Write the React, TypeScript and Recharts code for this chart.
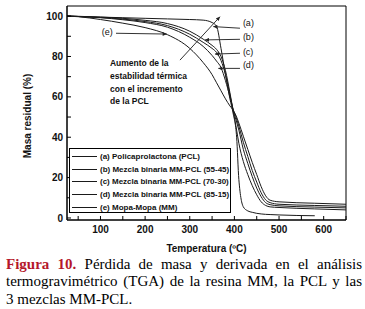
import React from 'react';
import {
  LineChart,
  Line,
  XAxis,
  YAxis,
  ReferenceArea,
  ReferenceLine,
  ReferenceDot,
} from 'recharts';

// TGA curves
const temperatures = [25, 50, 100, 150, 200, 250, 300, 330, 350, 360, 370, 380, 390, 397, 405, 410, 420, 430, 440, 450, 460, 470, 480, 500, 580, 650];
const pcl = [100, 99.8, 99.5, 99.2, 98.9, 98.6, 98.3, 98.0, 96.8, 95.0, 84.0, 71.0, 59.0, 52.0, 40.0, 19.0, 5.5, 3.5, 2.8, 2.3, 2.0, 1.8, 1.7, 1.5, 1.1, null];
const mm5545 = [100, 99.9, 99.5, 98.9, 97.9, 96.3, 92.5, 88.6, 85.5, 83.5, 80.0, 73.0, 62.0, 53.5, 43.5, 37.0, 28.0, 21.5, 16.0, 11.5, 8.0, 6.2, 5.5, 5.2, 4.5, 4.0];
const mm7030 = [100, 99.8, 99.3, 98.5, 97.3, 95.3, 91.0, 87.0, 84.0, 82.0, 78.0, 71.0, 61.0, 53.5, 47.5, 43.5, 34.0, 27.0, 20.5, 14.8, 10.5, 7.6, 6.6, 6.0, 5.4, 5.0];
const mm8515 = [100, 99.8, 99.2, 98.2, 96.8, 94.5, 89.5, 85.0, 80.5, 77.7, 74.5, 68.0, 60.0, 54.0, 49.0, 45.5, 37.5, 30.5, 23.5, 17.8, 12.5, 9.0, 7.6, 6.8, 6.2, 5.8];
const mopaMopa = [100, 99.7, 98.3, 96.5, 94.3, 90.8, 84.0, 77.0, 71.0, 67.0, 63.0, 59.0, 55.5, 53.5, 50.0, 47.0, 40.5, 34.0, 27.5, 21.5, 15.5, 11.0, 8.8, 8.0, 7.3, 6.8];

const seriesKeys = ['a', 'b', 'c', 'd', 'e'];
const seriesNames = [
  '(a) Policaprolactona (PCL)',
  '(b) Mezcla binaria MM-PCL (55-45)',
  '(c) Mezcla binaria MM-PCL (70-30)',
  '(d) Mezcla binaria MM-PCL (85-15)',
  '(e) Mopa-Mopa (MM)',
];

// every tick is drawn, only these get a label
const xTicks = [50, 100, 150, 200, 250, 300, 350, 400, 450, 500, 550, 600, 650];
const xLabelled = [100, 200, 300, 400, 500, 600];
const yTicks = [0, 10, 20, 30, 40, 50, 60, 70, 80, 90, 100];
const yLabelled = [0, 20, 40, 60, 80, 100];

const data = temperatures.map((t, i) => ({
  t,
  a: pcl[i],
  b: mm5545[i],
  c: mm7030[i],
  d: mm8515[i],
  e: mopaMopa[i],
}));

// annotation arrows (data coordinates)
const curveArrows = [
  { text: '(a)', from: [412.5, 94.0], to: [352.7, 94.8], at: [419, 96.7] },
  { text: '(b)', from: [412.5, 88.5], to: [334.1, 88.2], at: [419, 89.8] },
  { text: '(c)', from: [412.5, 81.6], to: [356.5, 81.2], at: [419, 82.4] },
  { text: '(d)', from: [412.5, 74.1], to: [364.0, 74.1], at: [419, 75.8] },
  { text: '(e)', from: [134.8, 91.5], to: [248.3, 91.1], at: [102.7, 92.0] },
];
const trendArrow = { from: [278.1, 78.2], to: [367.7, 99.7] };
const noteAt = [121.3, 76.6];
const noteLines = ['Aumento de la', 'estabilidad térmica', 'con el incremento', 'de la PCL'];

const sans = '"Liberation Sans", Arial, sans-serif';
const ink = '#1a1a1a';

const ArrowLine = (p: any) => (
  <line
    x1={p.x1}
    y1={p.y1}
    x2={p.x2}
    y2={p.y2}
    stroke="#333"
    strokeWidth={1}
    markerEnd="url(#tgaArrow)"
  />
);

const YTitle = (props: any) => {
  const { x, y, height } = props.viewBox;
  const cx = x + 5;
  const cy = y + height / 2 + 3;
  return (
    <text
      x={cx}
      y={cy}
      transform={`rotate(-90, ${cx}, ${cy})`}
      textAnchor="middle"
      dominantBaseline="central"
      fontFamily={sans}
      fontSize={10}
      fontWeight="bold"
      fill="#111"
    >
      Masa residual (%)
    </text>
  );
};

const XTitle = (props: any) => {
  const { x, y, width } = props.viewBox;
  return (
    <text
      x={x + width / 2}
      y={y + 28.3}
      textAnchor="middle"
      dominantBaseline="central"
      fontFamily={sans}
      fontSize={10}
      fontWeight="bold"
      fill="#111"
    >
      Temperatura (ºC)
    </text>
  );
};

function LegendBox() {
  return (
    <div
      style={{
        position: 'absolute',
        left: 69,
        top: 148,
        width: 162,
        height: 65,
        border: '1px solid #000',
        boxSizing: 'border-box',
        background: '#fff',
      }}
    >
      {seriesNames.map((name, i) => (
        <div
          key={name}
          style={{
            position: 'absolute',
            left: 2,
            top: 1.5 + i * 12.6,
            height: 12.6,
            display: 'flex',
            alignItems: 'center',
            whiteSpace: 'nowrap',
          }}
        >
          <span style={{ display: 'inline-block', width: 25, height: 1, background: ink }} />
          <span
            style={{
              marginLeft: 3,
              fontFamily: sans,
              fontSize: 8,
              fontWeight: 'bold',
              color: '#111',
            }}
          >
            {name}
          </span>
        </div>
      ))}
    </div>
  );
}

export default function App() {
  return (
    <div style={{ position: 'absolute', left: 0, top: 0, width: 365, height: 309, background: '#fff' }}>
      <svg width={0} height={0} style={{ position: 'absolute' }}>
        <defs>
          <marker
            id="tgaArrow"
            viewBox="0 0 10 10"
            refX={10}
            refY={5}
            markerWidth={6}
            markerHeight={4}
            markerUnits="userSpaceOnUse"
            orient="auto"
          >
            <path d="M0,0 L10,5 L0,10 z" fill="#222" />
          </marker>
        </defs>
      </svg>
      <LineChart
        width={365}
        height={255}
        data={data}
        margin={{ top: 6, right: 19, bottom: 0, left: 22 }}
      >
        <XAxis
          xAxisId="x"
          dataKey="t"
          type="number"
          domain={[25, 650]}
          allowDataOverflow
          ticks={xTicks}
          interval={0}
          tickFormatter={(v: number) => (xLabelled.includes(v) ? String(v) : '')}
          tickLine={{ stroke: '#000' }}
          tickSize={-4}
          tickMargin={10}
          height={35}
          axisLine={{ stroke: '#000' }}
          tick={{ fontSize: 10, fontWeight: 'bold', fill: '#111', fontFamily: sans }}
          label={{ content: XTitle }}
        />
        <YAxis
          yAxisId="y"
          type="number"
          domain={[-1, 105]}
          allowDataOverflow
          ticks={yTicks}
          interval={0}
          tickFormatter={(v: number) => (yLabelled.includes(v) ? String(v) : '')}
          width={45}
          tickLine={{ stroke: '#000' }}
          tickSize={-4}
          tickMargin={8}
          axisLine={{ stroke: '#000' }}
          tick={{ fontSize: 10, fontWeight: 'bold', fill: '#111', fontFamily: sans }}
          label={{ content: YTitle }}
        />
        <ReferenceArea
          xAxisId="x"
          yAxisId="y"
          x1={25}
          x2={650}
          y1={-1}
          y2={105}
          fill="none"
          stroke="#000"
          strokeWidth={1}
          ifOverflow="visible"
        />
        {seriesKeys.map((k) => (
          <Line
            key={k}
            xAxisId="x"
            yAxisId="y"
            dataKey={k}
            type="monotone"
            stroke={ink}
            strokeWidth={1}
            dot={false}
            isAnimationActive={false}
          />
        ))}
        {curveArrows.map((ar) => (
          <ReferenceLine
            key={'l' + ar.text}
            xAxisId="x"
            yAxisId="y"
            segment={[
              { x: ar.from[0], y: ar.from[1] },
              { x: ar.to[0], y: ar.to[1] },
            ]}
            shape={ArrowLine}
          />
        ))}
        {curveArrows.map((ar) => (
          <ReferenceDot
            key={'t' + ar.text}
            xAxisId="x"
            yAxisId="y"
            x={ar.at[0]}
            y={ar.at[1]}
            shape={(p: any) => (
              <text
                x={p.cx}
                y={p.cy}
                dominantBaseline="central"
                fontFamily={sans}
                fontSize={9}
                fill="#111"
              >
                {ar.text}
              </text>
            )}
          />
        ))}
        <ReferenceLine
          xAxisId="x"
          yAxisId="y"
          segment={[
            { x: trendArrow.from[0], y: trendArrow.from[1] },
            { x: trendArrow.to[0], y: trendArrow.to[1] },
          ]}
          shape={ArrowLine}
        />
        <ReferenceDot
          xAxisId="x"
          yAxisId="y"
          x={noteAt[0]}
          y={noteAt[1]}
          shape={(p: any) => (
            <text
              x={p.cx}
              y={p.cy}
              fontFamily={sans}
              fontSize={8.5}
              fontWeight="bold"
              fill="#111"
            >
              {noteLines.map((line, i) => (
                <tspan key={line} x={p.cx} y={p.cy + i * 12.6} dy="0.35em">
                  {line}
                </tspan>
              ))}
            </text>
          )}
        />
      </LineChart>
      <LegendBox />
      <div
        style={{
          position: 'absolute',
          left: 6,
          top: 256,
          width: 356,
          fontFamily: '"Liberation Serif", "Times New Roman", serif',
          fontSize: 15,
          lineHeight: '17.3px',
          color: '#000',
        }}
      >
        <div style={{ textAlign: 'justify', textAlignLast: 'justify' }}>
          <span style={{ color: '#b5172b', fontWeight: 'bold' }}>Figura 10.</span> Pérdida de masa y
          derivada en el análisis
        </div>
        <div style={{ textAlign: 'justify', textAlignLast: 'justify' }}>
          termogravimétrico (TGA) de la resina MM, la PCL y las
        </div>
        <div>3 mezclas MM-PCL.</div>
      </div>
    </div>
  );
}
